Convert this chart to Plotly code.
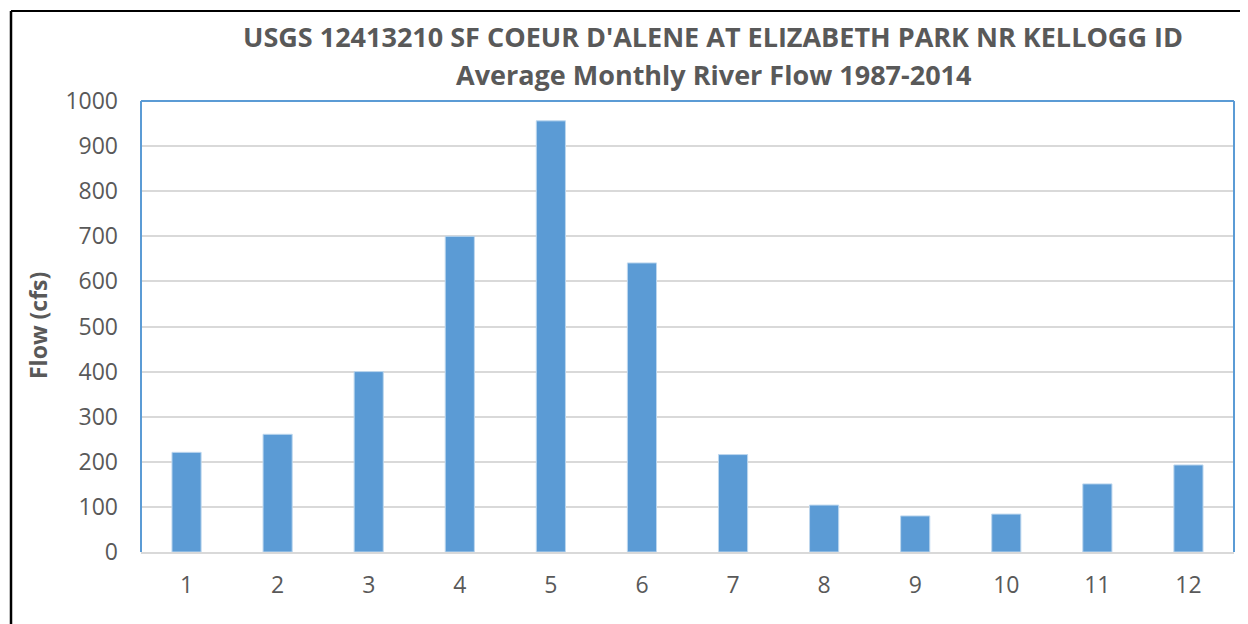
import plotly.graph_objects as go

months = ["1", "2", "3", "4", "5", "6", "7", "8", "9", "10", "11", "12"]
flow = [221, 261, 400, 700, 956, 641, 216, 104, 80, 84, 151, 193]
y_ticks = [0, 100, 200, 300, 400, 500, 600, 700, 800, 900, 1000]

title_line1 = "USGS 12413210 SF COEUR D'ALENE AT ELIZABETH PARK NR KELLOGG ID"
title_line2 = "Average Monthly River Flow 1987-2014"

# page body has an 8px margin, so work in window pixels and shift
OFF = 8
W, H = 1240, 616
L, R, T, B = 141 - OFF, 14, 101 - OFF, 72
pw, ph = W - L - R, H - T - B

def px_x(p):
    return (p - OFF - L) / pw

def px_y(p):
    return (H - B - (p - OFF)) / ph

fig = go.Figure()
fig.add_trace(go.Bar(
    x=months, y=flow,
    marker=dict(color="#5B9BD5", line=dict(color="#BDD7EE", width=1)),
    width=0.32,
))

grey = "#595959"
fig.update_layout(
    width=W, height=H,
    margin=dict(l=L, r=R, t=T, b=B),
    paper_bgcolor="white", plot_bgcolor="white",
    font=dict(family="Open Sans", color=grey, size=23),
    showlegend=False,
    xaxis=dict(
        type="category", showgrid=False, showline=True, linecolor="#D9D9D9",
        linewidth=2, ticks="", tickfont=dict(size=23, color=grey), ticklabelstandoff=11,
    ),
    yaxis=dict(
        range=[0, 1000], tickvals=y_ticks, showgrid=True, gridcolor="#D9D9D9",
        gridwidth=1.5, zeroline=False, showline=False, ticks="",
        tickfont=dict(size=23, color=grey), ticklabelstandoff=22,
    ),
    annotations=[
        dict(text="<b>" + title_line1 + "</b>", xref="paper", yref="paper",
             x=px_x(713), y=px_y(36), xanchor="center", yanchor="middle",
             showarrow=False, font=dict(size=27, color=grey)),
        dict(text="<b>" + title_line2 + "</b>", xref="paper", yref="paper",
             x=px_x(713), y=px_y(74), xanchor="center", yanchor="middle",
             showarrow=False, font=dict(size=27, color=grey)),
        dict(text="<b>Flow (cfs)</b>", xref="paper", yref="paper",
             x=px_x(38), y=px_y(326), xanchor="center", yanchor="middle",
             textangle=-90, showarrow=False, font=dict(size=23, color=grey)),
    ],
    shapes=[
        # blue plot border (left, top, right)
        dict(type="line", xref="paper", yref="paper", x0=0, x1=0, y0=0, y1=1,
             line=dict(color="#5B9BD5", width=2)),
        dict(type="line", xref="paper", yref="paper", x0=0, x1=1, y0=1, y1=1,
             line=dict(color="#5B9BD5", width=2)),
        dict(type="line", xref="paper", yref="paper", x0=1, x1=1, y0=0, y1=1,
             line=dict(color="#5B9BD5", width=2)),
        # outer black frame
        dict(type="line", xref="paper", yref="paper", x0=px_x(11), x1=px_x(11),
             y0=px_y(11), y1=px_y(640), line=dict(color="black", width=2.5)),
        dict(type="line", xref="paper", yref="paper", x0=px_x(11), x1=px_x(1260),
             y0=px_y(11), y1=px_y(11), line=dict(color="black", width=2)),
    ],
)

fig.write_html("out.html")
